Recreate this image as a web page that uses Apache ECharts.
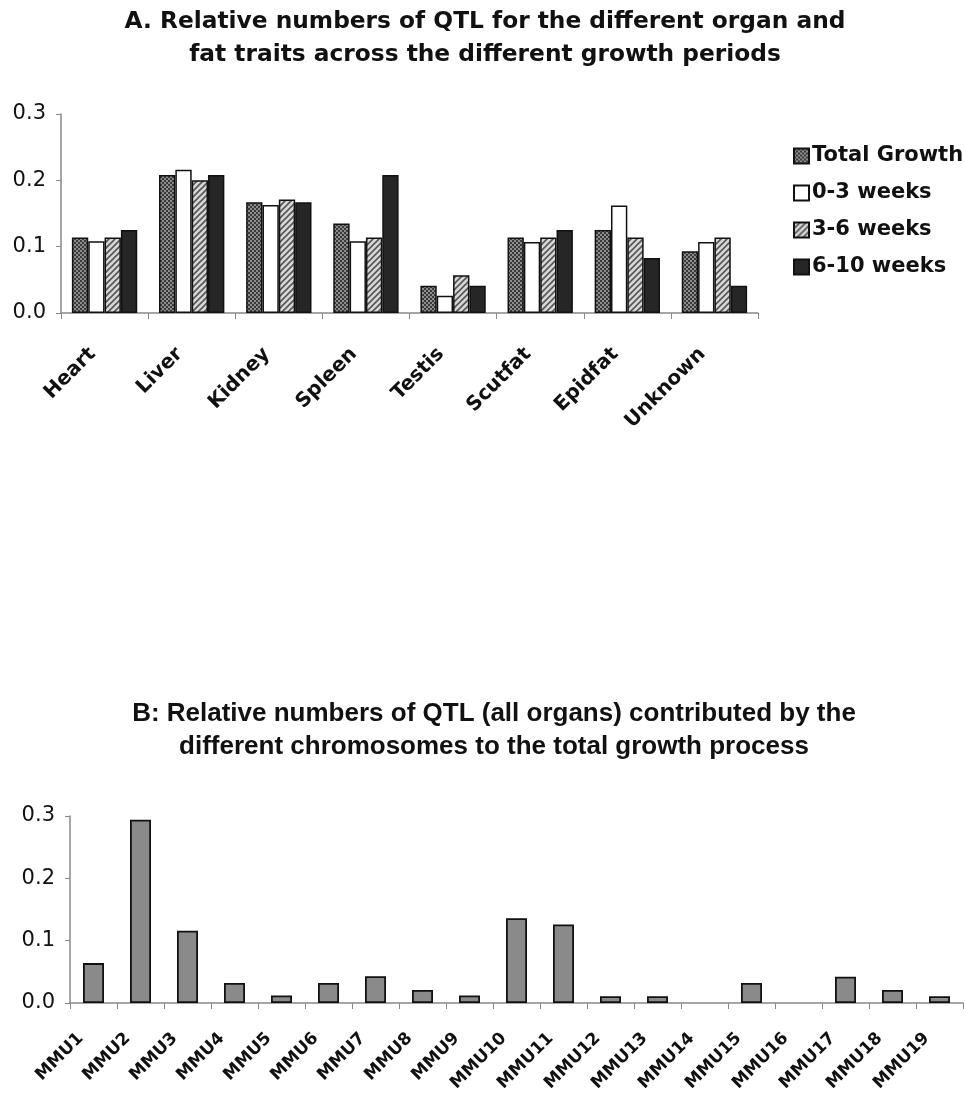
<!DOCTYPE html>
<html>

<head>
    <meta charset="utf-8">
    <script src="https://cdn.jsdelivr.net/npm/echarts@6/dist/echarts.min.js"></script>
    <style>
        body { margin: 0; background: #fff; }
        #chart { width: 965px; height: 1094px; }
    </style>
</head>

<body>
    <div id="chart"></div>
</body>

<script type="text/javascript">
    // chart A data
    var organs = ['Heart', 'Liver', 'Kidney', 'Spleen', 'Testis', 'Scutfat', 'Epidfat', 'Unknown'];
    var totalGrowth = [0.114, 0.208, 0.167, 0.135, 0.041, 0.114, 0.125, 0.093];
    var weeks0to3 = [0.108, 0.216, 0.163, 0.108, 0.026, 0.107, 0.162, 0.107];
    var weeks3to6 = [0.114, 0.200, 0.171, 0.114, 0.057, 0.114, 0.114, 0.114];
    var weeks6to10 = [0.125, 0.208, 0.167, 0.208, 0.041, 0.125, 0.083, 0.041];

    // chart B data
    var chromosomes = ['MMU1', 'MMU2', 'MMU3', 'MMU4', 'MMU5', 'MMU6', 'MMU7', 'MMU8', 'MMU9', 'MMU10',
        'MMU11', 'MMU12', 'MMU13', 'MMU14', 'MMU15', 'MMU16', 'MMU17', 'MMU18', 'MMU19'];
    var chromValues = [0.064, 0.294, 0.116, 0.032, 0.012, 0.032, 0.043, 0.021, 0.012, 0.136,
        0.126, 0.011, 0.011, 0, 0.032, 0, 0.042, 0.021, 0.011];

    // fill patterns
    function checkerPattern() {
        var c = document.createElement('canvas');
        c.width = 4; c.height = 4;
        var ctx = c.getContext('2d');
        ctx.fillStyle = '#8c8c8c';
        ctx.fillRect(0, 0, 4, 4);
        ctx.fillStyle = '#3a3a3a';
        ctx.fillRect(0, 0, 2, 2);
        ctx.fillRect(2, 2, 2, 2);
        return c;
    }

    function hatchPattern() {
        var c = document.createElement('canvas');
        c.width = 6; c.height = 6;
        var ctx = c.getContext('2d');
        ctx.fillStyle = '#d8d8d8';
        ctx.fillRect(0, 0, 6, 6);
        ctx.strokeStyle = '#555';
        ctx.lineWidth = 1.6;
        ctx.beginPath();
        ctx.moveTo(-1, 7); ctx.lineTo(7, -1);
        ctx.moveTo(-4, 4); ctx.lineTo(4, -4);
        ctx.moveTo(2, 10); ctx.lineTo(10, 2);
        ctx.stroke();
        return c;
    }

    var fontFam = 'DejaVu Sans, sans-serif';

    function yAxisCfg(gridIndex) {
        return {
            type: 'value',
            gridIndex: gridIndex,
            min: 0,
            max: 0.3,
            interval: 0.1,
            splitLine: { show: false },
            axisLine: { show: true, lineStyle: { color: '#888', width: 1.5 } },
            axisTick: { show: true, length: 5, lineStyle: { color: '#888' } },
            axisLabel: {
                color: '#111',
                fontSize: 21,
                fontFamily: fontFam,
                margin: 15,
                formatter: function (v) { return v.toFixed(1); }
            }
        };
    }

    function barSeries(name, data, color) {
        return {
            name: name,
            type: 'bar',
            xAxisIndex: 0,
            yAxisIndex: 0,
            barGap: '0%',
            barCategoryGap: '25%',
            data: data,
            itemStyle: {
                color: color,
                borderColor: '#111',
                borderWidth: 1.5
            }
        };
    }

    var option = {
        animation: false,
        backgroundColor: '#fff',
        title: [{
            text: 'A. Relative numbers of QTL for the different organ and\nfat traits across the different growth periods',
            left: 480,
            textAlign: 'center',
            top: 0,
            textStyle: { fontSize: 23.3, fontWeight: 'bold', fontFamily: fontFam, color: '#111', lineHeight: 33 }
        }, {
            text: 'B: Relative numbers of QTL (all organs) contributed by the\ndifferent chromosomes to the total growth process',
            left: 489,
            textAlign: 'center',
            top: 692,
            textStyle: { fontSize: 26, fontWeight: 'bold', fontFamily: 'Liberation Sans, Arial, sans-serif', color: '#111', lineHeight: 33 }
        }],
        legend: {
            orient: 'vertical',
            left: 788,
            top: 140,
            icon: 'rect',
            itemWidth: 15,
            itemHeight: 15,
            itemGap: 15,
            data: ['Total Growth', '0-3 weeks', '3-6 weeks', '6-10 weeks'],
            textStyle: { fontSize: 21, fontWeight: 'bold', fontFamily: fontFam, color: '#111', lineHeight: 22, padding: [0, 0, 0, -2] }
        },
        grid: [
            { left: 61, right: 207, top: 114, bottom: 781, outerBoundsMode: 'none' },
            { left: 70, right: 2, top: 816, bottom: 91, outerBoundsMode: 'none' }
        ],
        xAxis: [{
            type: 'category',
            gridIndex: 0,
            data: organs,
            axisLine: { lineStyle: { color: '#888', width: 1.5 } },
            axisTick: { show: true, length: 6, lineStyle: { color: '#888' } },
            axisLabel: {
                rotate: 45,
                interval: 0,
                color: '#111',
                fontSize: 20,
                fontWeight: 'bold',
                fontFamily: fontFam,
                margin: 26,
                padding: [0, 17, 0, 0]
            }
        }, {
            type: 'category',
            gridIndex: 1,
            data: chromosomes,
            axisLine: { lineStyle: { color: '#888', width: 1.5 } },
            axisTick: { show: true, length: 6, lineStyle: { color: '#888' } },
            axisLabel: {
                rotate: 45,
                interval: 0,
                color: '#111',
                fontSize: 17,
                fontWeight: 'bold',
                fontFamily: fontFam,
                margin: 20,
                padding: [0, 18, 0, 0]
            }
        }],
        yAxis: [yAxisCfg(0), yAxisCfg(1)],
        series: [
            barSeries('Total Growth', totalGrowth, { image: checkerPattern(), repeat: 'repeat' }),
            barSeries('0-3 weeks', weeks0to3, '#ffffff'),
            barSeries('3-6 weeks', weeks3to6, { image: hatchPattern(), repeat: 'repeat' }),
            barSeries('6-10 weeks', weeks6to10, '#262626'),
            {
                name: 'chromosomes',
                type: 'bar',
                xAxisIndex: 1,
                yAxisIndex: 1,
                barWidth: 21,
                // zero-height bars get no outline
                data: chromValues.map(function (v) {
                    return v === 0 ? { value: v, itemStyle: { borderWidth: 0 } } : v;
                }),
                itemStyle: { color: '#8a8a8a', borderColor: '#111', borderWidth: 1.8 }
            }
        ]
    };

    var chart = echarts.init(document.getElementById('chart'));
    chart.setOption(option);
</script>

</html>
